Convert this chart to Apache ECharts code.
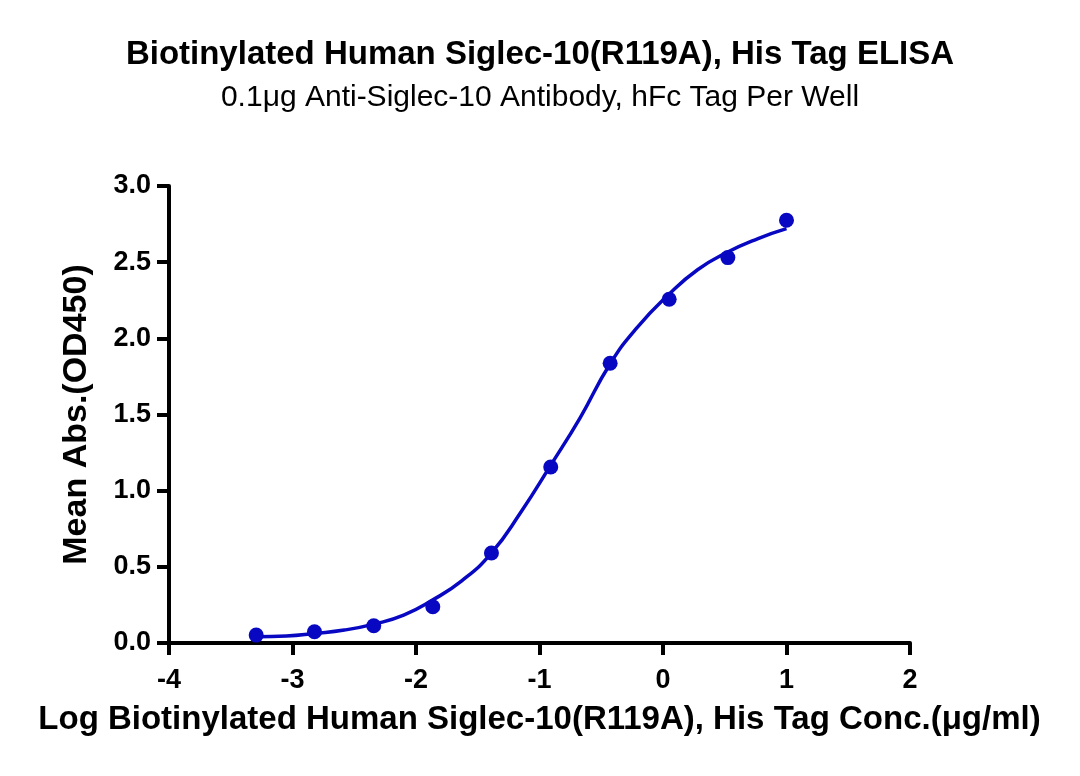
<!DOCTYPE html>
<html><head><meta charset="utf-8">
<script src="https://cdn.jsdelivr.net/npm/echarts@6/dist/echarts.min.js"></script>
<style>html,body{margin:0;padding:0;background:#fff}#c{width:1080px;height:776px}</style>
</head><body><div id="c"></div>
<script>
const titleText = 'Biotinylated Human Siglec-10(R119A), His Tag ELISA';
const subtitleText = '0.1μg Anti-Siglec-10 Antibody, hFc Tag Per Well';
const xAxisName = 'Log Biotinylated Human Siglec-10(R119A), His Tag Conc.(μg/ml)';
const yAxisName = 'Mean Abs.(OD450)';
const pointX = [-3.294, -2.822, -2.342, -1.864, -1.389, -0.909, -0.428, 0.050, 0.525, 1.000];
const pointY = [0.052, 0.074, 0.113, 0.238, 0.591, 1.155, 1.836, 2.257, 2.530, 2.775];
const curveX = [-3.29, -3.05, -2.82, -2.58, -2.34, -2.10, -1.87, -1.63, -1.39, -1.15, -0.91, -0.67, -0.43, -0.21, 0.05, 0.28, 0.52, 0.77, 1.00];
const curveY = [0.041, 0.046, 0.063, 0.085, 0.124, 0.183, 0.28, 0.408, 0.59, 0.86, 1.166, 1.48, 1.83, 2.07, 2.29, 2.45, 2.565, 2.655, 2.72];
const blue = '#0808c2';
const font = 'Liberation Sans, Arial, sans-serif';
const chart = echarts.init(document.getElementById('c'));
chart.setOption({
  animation: false,
  backgroundColor: '#fff',
  title: [
    {text: titleText, left: 'center', top: 33, textStyle: {fontFamily: font, fontSize: 33, fontWeight: 'bold', color: '#000'}},
    {text: subtitleText, left: 'center', top: 78, textStyle: {fontFamily: font, fontSize: 30, fontWeight: 'normal', color: '#000'}}
  ],
  grid: {left: 169, right: 170, top: 186, bottom: 133},
  xAxis: {
    type: 'value', min: -4, max: 2, interval: 1,
    name: xAxisName, nameLocation: 'middle', nameGap: 60,
    nameTextStyle: {fontFamily: font, fontSize: 33, fontWeight: 'bold', color: '#000'},
    axisLine: {onZero: false, lineStyle: {color: '#000', width: 4}},
    axisTick: {length: 12, lineStyle: {color: '#000', width: 4}},
    axisLabel: {margin: 24, fontFamily: font, fontSize: 27, fontWeight: 'bold', color: '#000'},
    splitLine: {show: false}
  },
  yAxis: {
    type: 'value', min: 0, max: 3, interval: 0.5,
    name: yAxisName, nameLocation: 'middle', nameGap: 75,
    nameTextStyle: {fontFamily: font, fontSize: 34, fontWeight: 'bold', color: '#000'},
    axisLine: {show: true, onZero: false, lineStyle: {color: '#000', width: 4}},
    axisTick: {show: true, length: 12, lineStyle: {color: '#000', width: 4}},
    axisLabel: {margin: 18, formatter: v => v.toFixed(1), fontFamily: font, fontSize: 27, fontWeight: 'bold', color: '#000'},
    splitLine: {show: false}
  },
  series: [
    {type: 'line', data: curveX.map((x, i) => [x, curveY[i]]), smooth: 0.5, showSymbol: false, symbol: 'none',
     lineStyle: {color: blue, width: 3.5}, z: 2},
    {type: 'scatter', data: pointX.map((x, i) => [x, pointY[i]]), symbolSize: 15,
     itemStyle: {color: blue, opacity: 1}, z: 3}
  ]
});
</script></body></html>
